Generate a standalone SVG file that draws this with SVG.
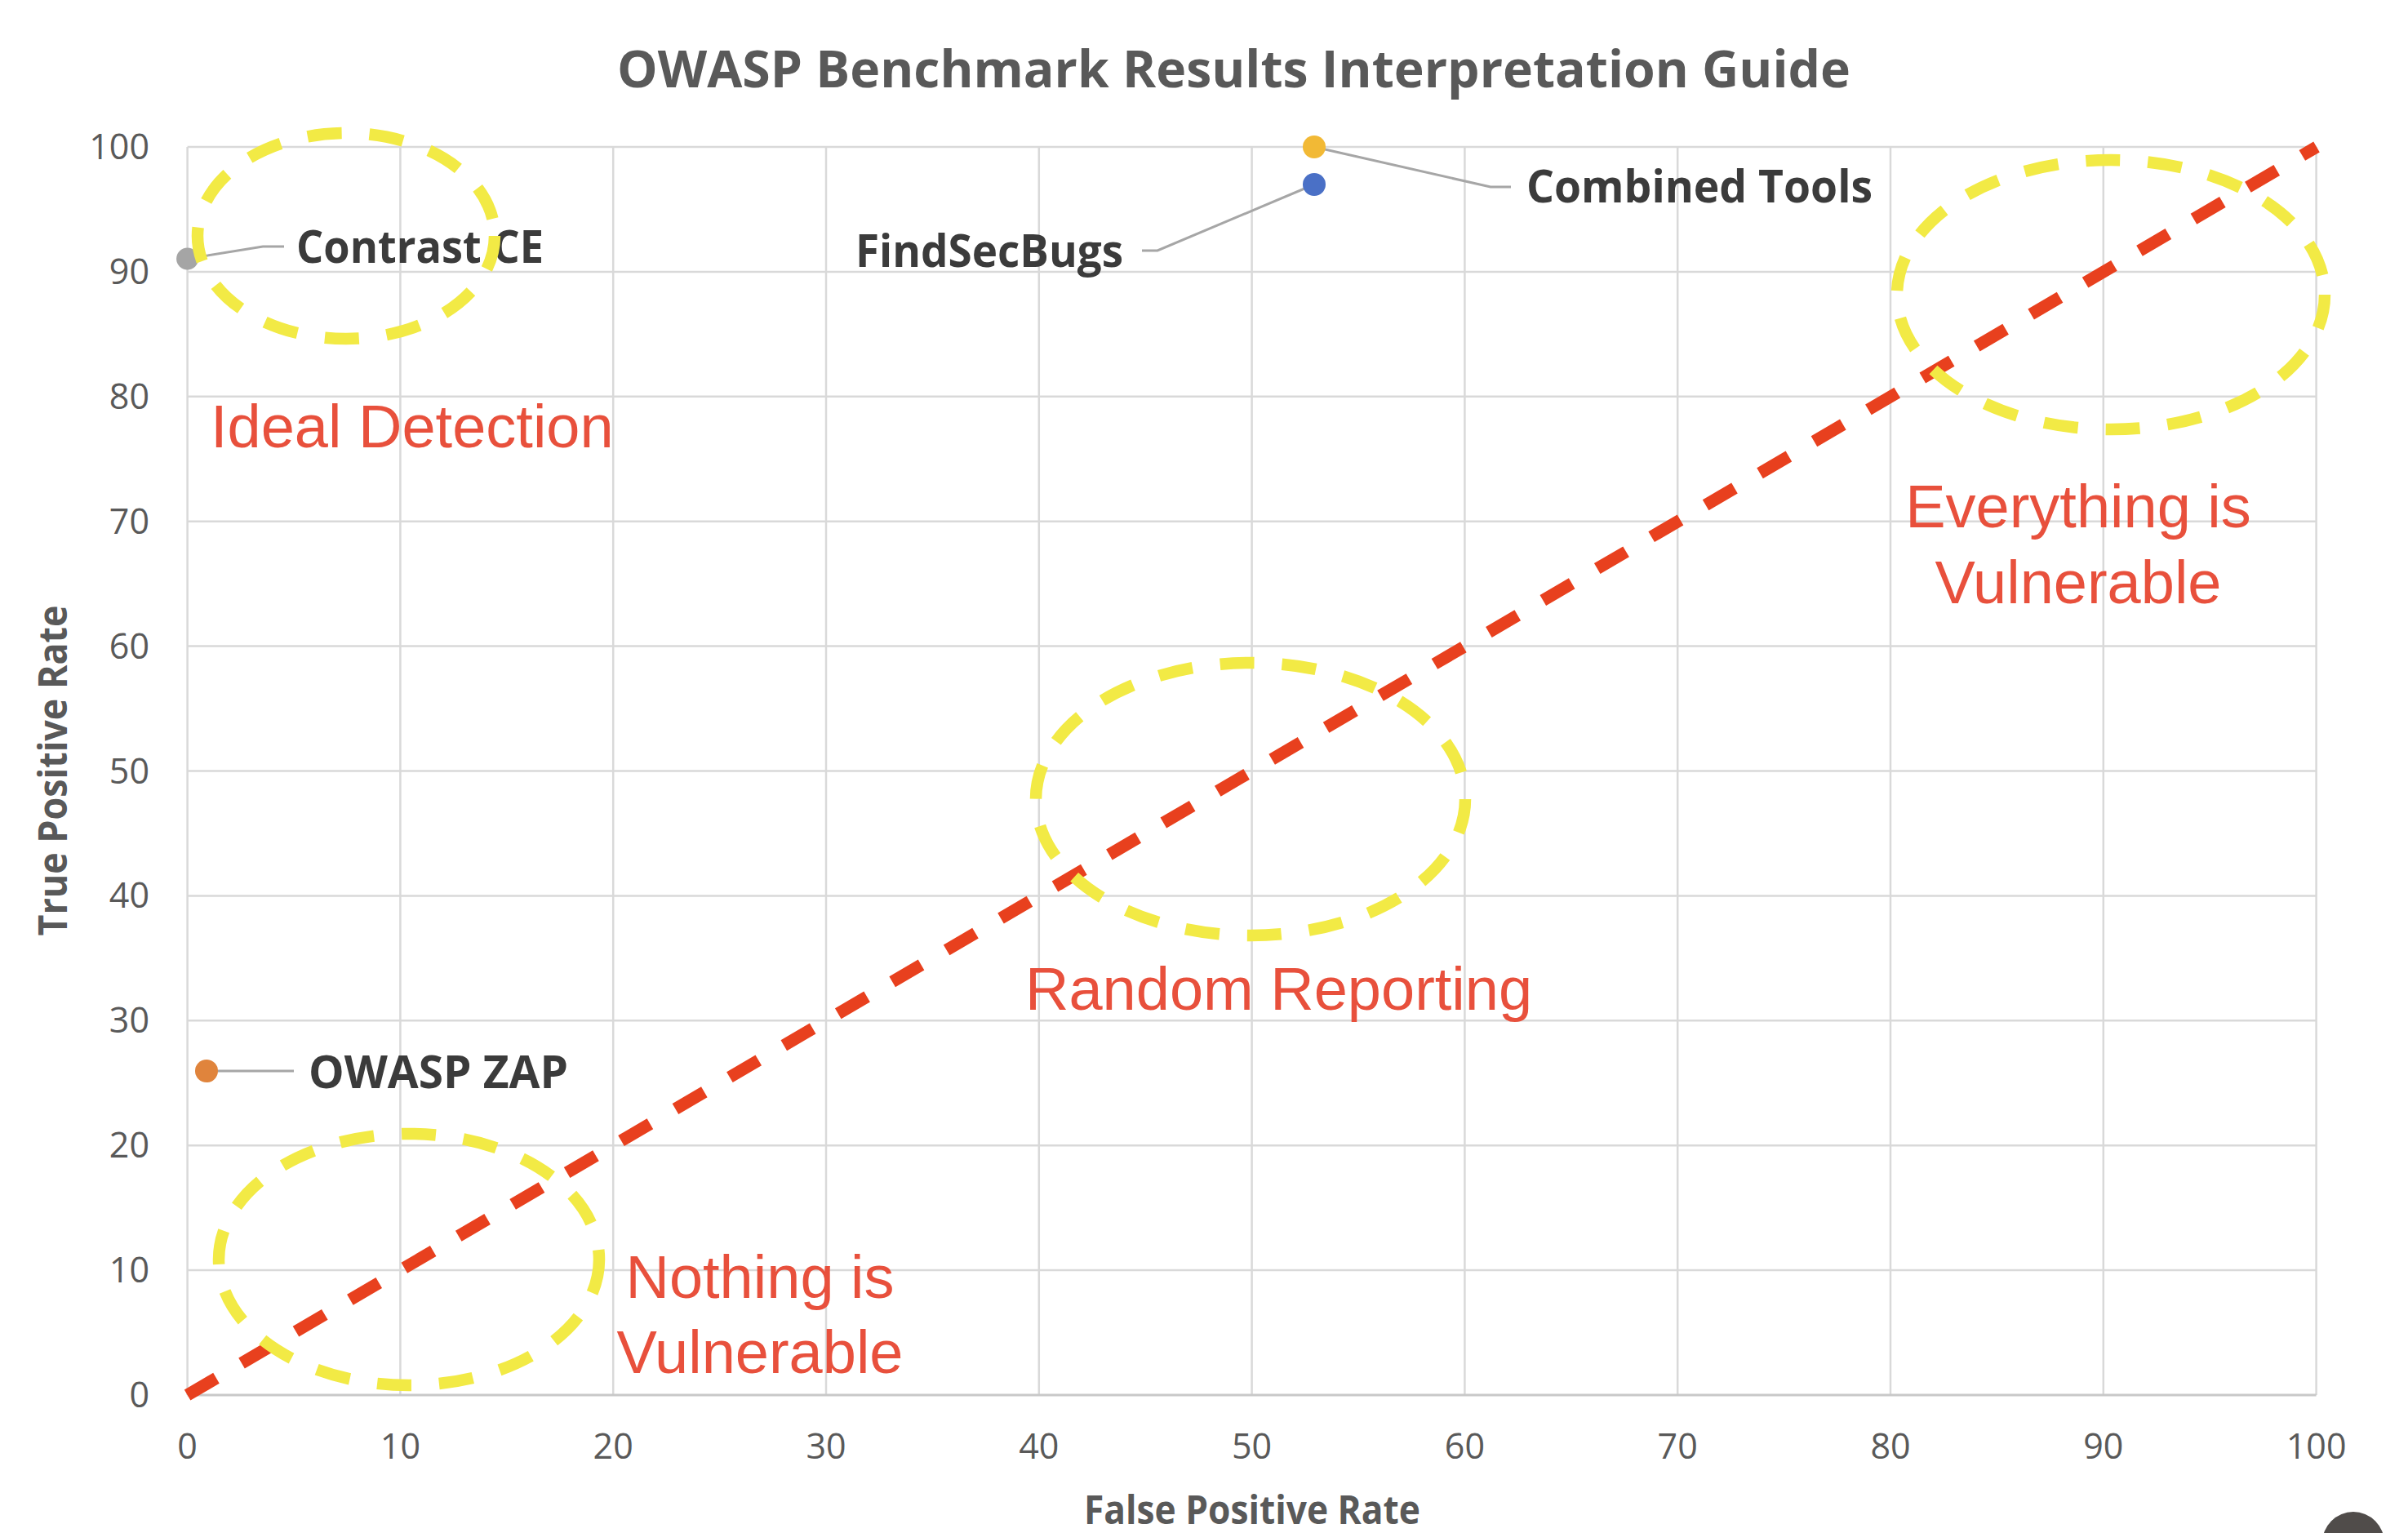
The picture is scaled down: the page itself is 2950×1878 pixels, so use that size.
<svg xmlns="http://www.w3.org/2000/svg" width="2950" height="1878" viewBox="0 0 2950 1878">
  <style>
    .grid { stroke: #D9D9D9; stroke-width: 2.5; fill: none; }
    .axis { stroke: #C8C8C8; stroke-width: 3; fill: none; }
    .tick { font-family: "Open Sans", "Liberation Sans", sans-serif; font-size: 43px; fill: #595959; }
    .ytick { text-anchor: end; }
    .xtick { text-anchor: middle; }
    .axtitle { font-family: "Open Sans", "Liberation Sans", sans-serif; font-size: 48px; font-weight: bold; fill: #595959; text-anchor: middle; }
    .title { font-family: "Open Sans", "Liberation Sans", sans-serif; font-size: 63px; font-weight: bold; fill: #595959; }
    .lbl { font-family: "Open Sans", "Liberation Sans", sans-serif; font-size: 56px; font-weight: bold; fill: #3B3B3B; }
    .leader { stroke: #A6A6A6; stroke-width: 3; fill: none; }
    .zone { font-family: "Liberation Sans", Arial, sans-serif; font-size: 74px; fill: #E8503C; }
    .mid { text-anchor: middle; }
    .diag { stroke: #E8401E; stroke-width: 15; stroke-dasharray: 41 36; fill: none; }
    .ring { stroke: #F2EA45; stroke-width: 14.5; stroke-dasharray: 42 34; fill: none; }
  </style>
  <rect x="0" y="0" width="2950" height="1878" fill="#FFFFFF"/>

  <g id="title">
    <text class="title" x="756" y="107" textLength="1511" lengthAdjust="spacingAndGlyphs">OWASP Benchmark Results Interpretation Guide</text>
  </g>

  <g id="gridlines">
    <line class="grid" x1="229.6" y1="180" x2="229.6" y2="1709"/>
    <line class="grid" x1="490.4" y1="180" x2="490.4" y2="1709"/>
    <line class="grid" x1="751.2" y1="180" x2="751.2" y2="1709"/>
    <line class="grid" x1="1012" y1="180" x2="1012" y2="1709"/>
    <line class="grid" x1="1272.8" y1="180" x2="1272.8" y2="1709"/>
    <line class="grid" x1="1533.6" y1="180" x2="1533.6" y2="1709"/>
    <line class="grid" x1="1794.4" y1="180" x2="1794.4" y2="1709"/>
    <line class="grid" x1="2055.2" y1="180" x2="2055.2" y2="1709"/>
    <line class="grid" x1="2316" y1="180" x2="2316" y2="1709"/>
    <line class="grid" x1="2576.8" y1="180" x2="2576.8" y2="1709"/>
    <line class="grid" x1="2837.6" y1="180" x2="2837.6" y2="1709"/>
    <line class="grid" x1="229.6" y1="180" x2="2837.6" y2="180"/>
    <line class="grid" x1="229.6" y1="332.9" x2="2837.6" y2="332.9"/>
    <line class="grid" x1="229.6" y1="485.8" x2="2837.6" y2="485.8"/>
    <line class="grid" x1="229.6" y1="638.7" x2="2837.6" y2="638.7"/>
    <line class="grid" x1="229.6" y1="791.6" x2="2837.6" y2="791.6"/>
    <line class="grid" x1="229.6" y1="944.5" x2="2837.6" y2="944.5"/>
    <line class="grid" x1="229.6" y1="1097.4" x2="2837.6" y2="1097.4"/>
    <line class="grid" x1="229.6" y1="1250.3" x2="2837.6" y2="1250.3"/>
    <line class="grid" x1="229.6" y1="1403.2" x2="2837.6" y2="1403.2"/>
    <line class="grid" x1="229.6" y1="1556.1" x2="2837.6" y2="1556.1"/>
    <line class="axis" x1="229.6" y1="1709" x2="2837.6" y2="1709"/>
  </g>

  <g id="y-ticks" class="tick ytick">
    <text x="183" y="195">100</text>
    <text x="183" y="348">90</text>
    <text x="183" y="501">80</text>
    <text x="183" y="654">70</text>
    <text x="183" y="807">60</text>
    <text x="183" y="960">50</text>
    <text x="183" y="1112">40</text>
    <text x="183" y="1265">30</text>
    <text x="183" y="1418">20</text>
    <text x="183" y="1571">10</text>
    <text x="183" y="1724">0</text>
  </g>

  <g id="x-ticks" class="tick xtick">
    <text x="229.6" y="1787">0</text>
    <text x="490.4" y="1787">10</text>
    <text x="751.2" y="1787">20</text>
    <text x="1012" y="1787">30</text>
    <text x="1272.8" y="1787">40</text>
    <text x="1533.6" y="1787">50</text>
    <text x="1794.4" y="1787">60</text>
    <text x="2055.2" y="1787">70</text>
    <text x="2316" y="1787">80</text>
    <text x="2576.8" y="1787">90</text>
    <text x="2837.6" y="1787">100</text>
  </g>

  <g id="axis-titles">
    <text class="axtitle" x="1534" y="1867" textLength="412" lengthAdjust="spacingAndGlyphs">False Positive Rate</text>
    <text class="axtitle" x="0" y="0" transform="translate(82 944) rotate(-90)" textLength="405" lengthAdjust="spacingAndGlyphs">True Positive Rate</text>
  </g>

  <g id="connectors">
    <polyline class="leader" points="229.6,317 322,302 348,302"/>
    <polyline class="leader" points="1610,226 1418,307 1399,307"/>
    <polyline class="leader" points="1610,180 1826,229 1851,229"/>
    <polyline class="leader" points="253,1312 360,1312"/>
  </g>

  <g id="node-contrast-ce">
    <circle cx="229.6" cy="317" r="13.5" fill="#A5A5A5"/>
    <text class="lbl" x="363" y="322" textLength="303" lengthAdjust="spacingAndGlyphs">Contrast CE</text>
  </g>
  <g id="node-findsecbugs">
    <circle cx="1610" cy="226" r="14" fill="#4A70C6"/>
    <text class="lbl" x="1048" y="327" textLength="328" lengthAdjust="spacingAndGlyphs">FindSecBugs</text>
  </g>
  <g id="node-combined-tools">
    <circle cx="1610" cy="180" r="14" fill="#F2B935"/>
    <text class="lbl" x="1870" y="248" textLength="424" lengthAdjust="spacingAndGlyphs">Combined Tools</text>
  </g>
  <g id="node-owasp-zap">
    <circle cx="253" cy="1312" r="14" fill="#E0843C"/>
    <text class="lbl" x="378" y="1333" textLength="318" lengthAdjust="spacingAndGlyphs">OWASP ZAP</text>
  </g>

  <g id="random-line">
    <line class="diag" x1="229.6" y1="1709" x2="2838" y2="180"/>
  </g>

  <g id="zone-ideal-detection">
    <ellipse class="ring" cx="424" cy="289" rx="182" ry="126"/>
    <text class="zone" x="258" y="548">Ideal Detection</text>
  </g>
  <g id="zone-everything-vulnerable">
    <ellipse class="ring" cx="2586" cy="361" rx="262" ry="165"/>
    <text class="zone mid" x="2546" y="646">Everything is</text>
    <text class="zone mid" x="2546" y="739">Vulnerable</text>
  </g>
  <g id="zone-random-reporting">
    <ellipse class="ring" cx="1532" cy="979" rx="263" ry="167"/>
    <text class="zone" x="1256" y="1237">Random Reporting</text>
  </g>
  <g id="zone-nothing-vulnerable">
    <ellipse class="ring" cx="501" cy="1543" rx="233" ry="154"/>
    <text class="zone mid" x="931" y="1590">Nothing is</text>
    <text class="zone mid" x="931" y="1682">Vulnerable</text>
  </g>

  <g id="corner-button">
    <circle cx="2883" cy="1890" r="38" fill="#504C4A"/>
  </g>
</svg>
